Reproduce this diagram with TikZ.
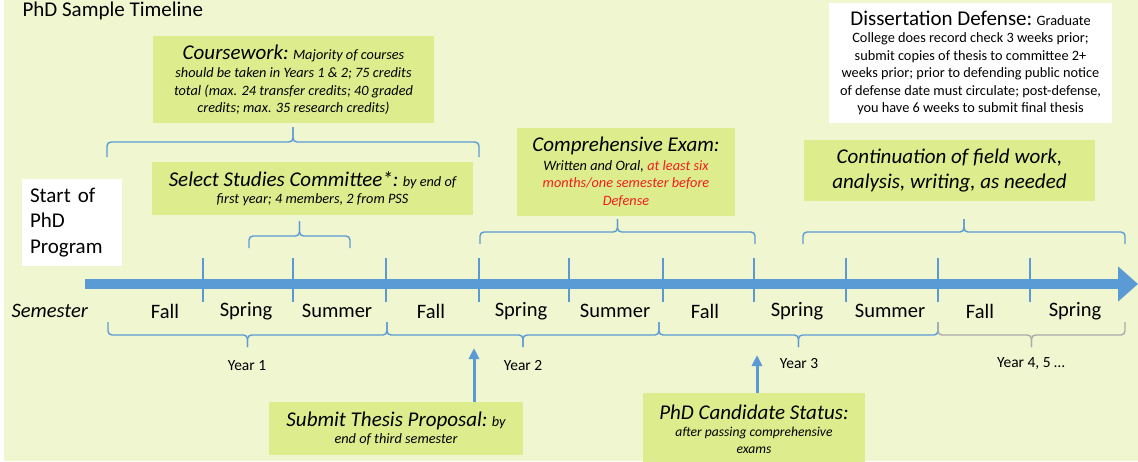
\documentclass[tikz,border=0pt]{standalone}
\usepackage{fontspec}
\setmainfont{Carlito}
\usetikzlibrary{arrows.meta}
\definecolor{bgc}{RGB}{239,246,208}
\definecolor{boxg}{RGB}{221,236,140}
\definecolor{tblue}{RGB}{91,155,213}
\definecolor{bgray}{RGB}{170,170,170}
\definecolor{tred}{RGB}{240,30,30}
\newcommand\fsbig{\fontsize{21}{25}\selectfont}
\newcommand\fssmall{\fontsize{14.3}{17.5}\selectfont}
\newcommand\bracedn[6][tblue]{%
  \draw[bracestyle,draw=#1] (#2,#5) -- (#2,#4) -- ({(#2+#3)/2},#4) -- ({(#2+#3)/2},#6);
  \draw[bracestyle,draw=#1] ({(#2+#3)/2},#6) -- ({(#2+#3)/2},#4) -- (#3,#4) -- (#3,#5);}
\begin{document}
\begin{tikzpicture}[x=1pt,y=-1pt,
  bracestyle/.style={line width=1.4pt,rounded corners=4pt},
  greenbox/.style={fill=boxg,inner sep=0pt,align=center,font=\fssmall\itshape},
  whitebox/.style={fill=white,inner sep=0pt,align=center,font=\fssmall},
  ticksty/.style={draw=tblue,line width=1.8pt},
  semlab/.style={font=\fontsize{20.5}{24}\selectfont},
  yearlab/.style={font=\fontsize{15.5}{18}\selectfont},
  uparrow/.style={draw=tblue,line width=3pt,-{Triangle[width=10pt,length=11pt]}}]
\useasboundingbox (0,0) rectangle (1138,461);
\fill[white] (0,0) rectangle (1138,461);
\fill[bgc] (4,0) rectangle (1138,461);

\node[anchor=west,font=\fontsize{21}{25}\selectfont] (title) at (19,11) {PhD Sample Timeline};

% boxes
\node[greenbox,minimum width=281pt,minimum height=87pt] (course) at (293.5,79.5)
  {{\fsbig Coursework:} Majority of courses\\[1pt]should be taken in Years 1 \& 2; 75 credits\\total (max. 24 transfer credits; 40 graded\\credits; max. 35 research credits)};
\node[greenbox,minimum width=321pt,minimum height=53pt] (committee) at (312.5,188.5)
  {{\fsbig Select Studies Committee*:} by end of\\first year; 4 members, 2 from PSS};
\node[greenbox,minimum width=218pt,minimum height=88pt] (comp) at (626,172)
  {{\fsbig Comprehensive Exam:}\\[1pt]Written and Oral, \textcolor{tred}{at least six}\\\textcolor{tred}{months/one semester before}\\\textcolor{tred}{Defense}};
\node[greenbox,minimum width=291pt,minimum height=61pt,font=\fsbig\itshape] (cont) at (949.5,170.5)
  {Continuation of field work,\\analysis, writing, as needed};
\node[whitebox,minimum width=283pt,minimum height=120pt] (defense) at (970.5,63)
  {{\fsbig Dissertation Defense:} Graduate\\College does record check 3 weeks prior;\\submit copies of thesis to committee 2+\\weeks prior; prior to defending public notice\\of defense date must circulate; post-defense,\\you have 6 weeks to submit final thesis};
\node[fill=white,inner xsep=8pt,inner ysep=0pt,text width=84pt,minimum height=87pt,align=left,
  font=\fontsize{21}{25.5}\selectfont] (start) at (72,222.5) {Start of\\PhD\\Program};
\node[greenbox,minimum width=254pt,minimum height=53pt] (thesis) at (396,428.5)
  {{\fsbig Submit Thesis Proposal:} by\\end of third semester};
\node[greenbox,minimum width=222pt,minimum height=72pt,font=\fontsize{13.6}{17}\selectfont\itshape] (cand) at (754,429)
  {{\fsbig PhD Candidate Status:}\\after passing comprehensive\\exams};

% timeline
\coordinate (tstart) at (85,284);
\coordinate (tend) at (1138,284);
\draw[draw=tblue,line width=10pt,-{Triangle[width=34pt,length=20pt]}] (tstart) -- (tend);
\foreach \x in {203,293,386,479,569,663,754,846,938,1030}
  \draw[ticksty] (\x,258) -- (\x,302);

% semester labels
\node[semlab,font=\fontsize{20.5}{24}\selectfont\itshape,anchor=west] (semester) at (8,311) {Semester};
\foreach \x/\t [count=\i] in {165/Fall,246/Spring,337/Summer,431/Fall,521/Spring,615/Summer,705/Fall,797/Spring,890/Summer,980/Fall,1075/Spring}
  \node[semlab] (sem\i) at (\x,311) {\t};

% year braces
\bracedn{108}{387}{335}{322}{347}
\bracedn{387}{659}{335}{322}{347}
\bracedn{659}{938}{335}{322}{347}
\bracedn[bgray]{938}{1125}{335}{322}{347}
\node[yearlab] (y1) at (247,366) {Year 1};
\node[yearlab] (y2) at (523,366) {Year 2};
\node[yearlab] (y3) at (799,364) {Year 3};
\node[yearlab] (y4) at (1031,364) {Year 4, 5 …};

% upper braces
\bracedn{107}{479}{142}{157}{127}
\bracedn{249}{350}{236}{248}{221}
\bracedn{480}{755}{232}{244}{219}
\bracedn{803}{1125}{232}{244}{219}

% arrows
\coordinate (thesistip) at (474,348);
\coordinate (candtip) at (757,355);
\draw[uparrow] (thesis.north -| thesistip) -- (thesistip);
\draw[uparrow] (cand.north -| candtip) -- (candtip);
\end{tikzpicture}
\end{document}
